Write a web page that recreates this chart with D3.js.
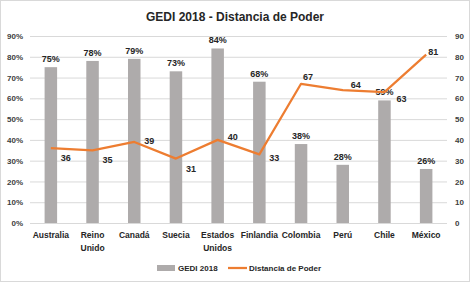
<!DOCTYPE html>
<html>
<head>
<meta charset="utf-8">
<script src="https://cdn.jsdelivr.net/npm/d3@7"></script>
<style>
  body { margin: 0; background: #fff; }
  text { font-family: "Liberation Sans", Arial, sans-serif; }
</style>
</head>
<body>
<div id="chart"></div>
<script>
// data
const countries = [["Australia"], ["Reino", "Unido"], ["Canadá"], ["Suecia"], ["Estados", "Unidos"],
  ["Finlandia"], ["Colombia"], ["Perú"], ["Chile"], ["México"]];
const gedi = [75, 78, 79, 73, 84, 68, 38, 28, 59, 26];
const distancia = [36, 35, 39, 31, 40, 33, 67, 64, 63, 81];
const leftTicks = [0, 10, 20, 30, 40, 50, 60, 70, 80, 90];
const rightTicks = [0, 10, 20, 30, 40, 50, 60, 70, 80, 90];
// label offsets for line labels (dx, dy), like the manual placement in the original
const lineLabelOffsets = [[10, 10], [10, 10], [10, -1], [10, 10], [10, -3], [10, 3], [2, -7], [8, -5], [12, 7], [2, -3]];

const width = 470, height = 282;
const margin = { top: 36, right: 23, bottom: 59, left: 30 };

const svg = d3.select("#chart")
  .append("svg")
  .attr("width", width)
  .attr("height", height);

svg.append("rect")
  .attr("x", 0.5).attr("y", 0.5)
  .attr("width", width - 1).attr("height", height - 1)
  .attr("fill", "#fff")
  .attr("stroke", "#d9d9d9");

const x = d3.scaleBand()
  .domain(d3.range(countries.length))
  .range([margin.left, width - margin.right])
  .paddingInner(0.7)
  .paddingOuter(0.35);

const yL = d3.scaleLinear().domain([0, 90]).range([height - margin.bottom, margin.top]);
const yR = d3.scaleLinear().domain([0, 90]).range([height - margin.bottom, margin.top]);

// gridlines
svg.append("g")
  .selectAll("line")
  .data(leftTicks)
  .enter().append("line")
  .attr("x1", margin.left)
  .attr("x2", width - margin.right)
  .attr("y1", d => yL(d) + 0.5)
  .attr("y2", d => yL(d) + 0.5)
  .attr("stroke", "#d9d9d9");

// left axis
const leftAxis = d3.axisLeft(yL).tickValues(leftTicks).tickSize(0).tickPadding(7).tickFormat(d => d + "%");
svg.append("g")
  .attr("transform", "translate(" + margin.left + ",0)")
  .call(leftAxis)
  .call(g => g.select(".domain").remove())
  .selectAll("text")
  .attr("font-size", "8px")
  .attr("font-weight", "bold")
  .attr("fill", "#404040");

// right axis
const rightAxis = d3.axisRight(yR).tickValues(rightTicks).tickSize(0).tickPadding(8);
svg.append("g")
  .attr("transform", "translate(" + (width - margin.right) + ",0)")
  .call(rightAxis)
  .call(g => g.select(".domain").remove())
  .selectAll("text")
  .attr("font-size", "8px")
  .attr("font-weight", "bold")
  .attr("fill", "#404040");

// bottom axis line
svg.append("line")
  .attr("x1", margin.left).attr("x2", width - margin.right)
  .attr("y1", yL(0) + 0.5).attr("y2", yL(0) + 0.5)
  .attr("stroke", "#d9d9d9");

// bars
svg.selectAll(".bar")
  .data(gedi)
  .enter().append("rect")
  .attr("class", "bar")
  .attr("x", (d, i) => x(i))
  .attr("y", d => yL(d))
  .attr("width", x.bandwidth())
  .attr("height", d => yL(0) - yL(d))
  .attr("fill", "#aeabab");

// bar labels
svg.selectAll(".barlabel")
  .data(gedi)
  .enter().append("text")
  .attr("class", "barlabel")
  .attr("x", (d, i) => x(i) + x.bandwidth() / 2)
  .attr("y", d => yL(d) - 5)
  .attr("text-anchor", "middle")
  .attr("font-size", "9px")
  .attr("font-weight", "bold")
  .attr("fill", "#262626")
  .text(d => d + "%");

// line
const cx = i => x(i) + x.bandwidth() / 2;
const line = d3.line()
  .x((d, i) => cx(i))
  .y(d => yR(d));

svg.append("path")
  .datum(distancia)
  .attr("d", line)
  .attr("fill", "none")
  .attr("stroke", "#ed7d31")
  .attr("stroke-width", 2.25)
  .attr("stroke-linejoin", "round");

// line labels
svg.selectAll(".linelabel")
  .data(distancia)
  .enter().append("text")
  .attr("class", "linelabel")
  .attr("x", (d, i) => cx(i) + lineLabelOffsets[i][0])
  .attr("y", (d, i) => yR(d) + lineLabelOffsets[i][1])
  .attr("dy", "0.35em")
  .attr("font-size", "9px")
  .attr("font-weight", "bold")
  .attr("fill", "#262626")
  .text(d => d);

// category labels
const cats = svg.selectAll(".cat")
  .data(countries)
  .enter().append("text")
  .attr("class", "cat")
  .attr("x", (d, i) => cx(i))
  .attr("y", yL(0) + 15)
  .attr("text-anchor", "middle")
  .attr("font-size", "8.5px")
  .attr("font-weight", "bold")
  .attr("fill", "#262626");
cats.selectAll("tspan")
  .data(d => d)
  .enter().append("tspan")
  .attr("x", function () { return this.parentNode.getAttribute("x"); })
  .attr("dy", (d, i) => i === 0 ? 0 : 12.5)
  .text(d => d);

// title
svg.append("text")
  .attr("x", 235)
  .attr("y", 21)
  .attr("text-anchor", "middle")
  .attr("font-size", "12px")
  .attr("font-weight", "bold")
  .attr("fill", "#262626")
  .text("GEDI 2018 - Distancia de Poder");

// legend
const legend = svg.append("g").attr("transform", "translate(157,268)");
legend.append("rect")
  .attr("x", 0).attr("y", -3)
  .attr("width", 18).attr("height", 6)
  .attr("fill", "#aeabab");
legend.append("text")
  .attr("x", 21).attr("y", 0).attr("dy", "0.35em")
  .attr("font-size", "8px").attr("font-weight", "bold").attr("fill", "#262626")
  .text("GEDI 2018");
legend.append("line")
  .attr("x1", 71).attr("x2", 90).attr("y1", 0).attr("y2", 0)
  .attr("stroke", "#ed7d31").attr("stroke-width", 2.25);
legend.append("text")
  .attr("x", 92).attr("y", 0).attr("dy", "0.35em")
  .attr("font-size", "8px").attr("font-weight", "bold").attr("fill", "#262626")
  .text("Distancia de Poder");
</script>
</body>
</html>
